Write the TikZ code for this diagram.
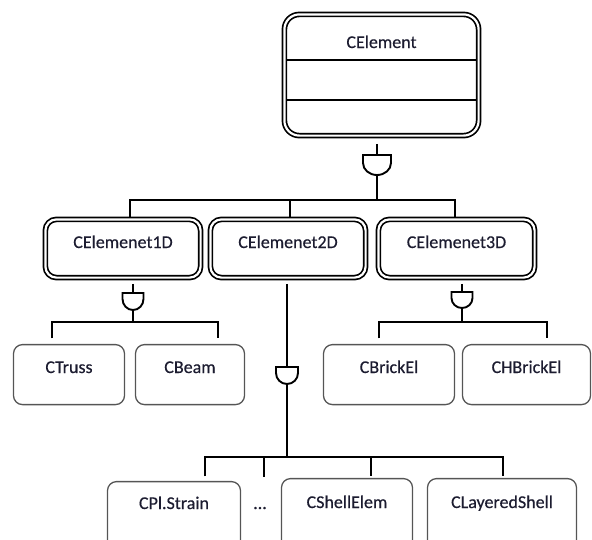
\documentclass[tikz,border=0pt]{standalone}
\usepackage{fontspec}
\setmainfont[FakeBold=0.4]{Carlito}
\usetikzlibrary{calc,backgrounds}
\definecolor{txt}{RGB}{28,28,48}
\definecolor{thinc}{RGB}{85,85,85}
\begin{document}
\begin{tikzpicture}[x=1pt,y=-1pt,
  every node/.style={font=\fontsize{18}{20}\selectfont, text=txt},
  dbl/.style={draw=black, line width=1.7pt, double=white, double distance=2.2pt, inner xsep=0pt, inner ysep=0pt},
  thinbox/.style={draw=thinc, line width=1.3pt, rounded corners=9pt, inner xsep=0pt, inner ysep=0pt},
  conn/.style={line width=1.9pt, black, line join=miter},
  gate/.style={line width=1.9pt, black, fill=white, line join=miter},
  sep/.style={line width=1.5pt, black}
]
\useasboundingbox (0,0) rectangle (592,539);
\clip (0,0) rectangle (592,539);

% root class
\node[dbl, rounded corners=15pt, minimum width=194.2pt, minimum height=121.2pt,
      text height=33.6pt, text depth=87.6pt] (CE) at (381.5,75) {CElement};
\draw[sep] ($(CE.west |- 0,60)+(2.8,0)$) -- ($(CE.east |- 0,60)+(-2.8,0)$);
\draw[sep] ($(CE.west |- 0,100)+(2.8,0)$) -- ($(CE.east |- 0,100)+(-2.8,0)$);

% level 2
\node[dbl, rounded corners=11pt, minimum width=155.2pt, minimum height=58.2pt,
      text height=28.6pt, text depth=29.6pt] (E1) at (123,248.5) {CElemenet1D};
\node[dbl, rounded corners=11pt, minimum width=155.2pt, minimum height=58.2pt,
      text height=28.6pt, text depth=29.6pt] (E2) at (288,248.5) {CElemenet2D};
\node[dbl, rounded corners=11pt, minimum width=156.2pt, minimum height=58.2pt,
      text height=28.6pt, text depth=29.6pt] (E3) at (456.5,248.5) {CElemenet3D};

% level 3
\node[thinbox, minimum width=111pt, minimum height=60pt, text height=28.4pt, text depth=31.6pt] (CT) at (69,374.6) {CTruss};
\node[thinbox, minimum width=109pt, minimum height=60pt, text height=28.4pt, text depth=31.6pt] (CB) at (190,374.6) {CBeam};
\node[thinbox, minimum width=131pt, minimum height=60pt, text height=28.4pt, text depth=31.6pt] (CBr) at (389,374.6) {CBrickEl};
\node[thinbox, minimum width=128pt, minimum height=60pt, text height=28.4pt, text depth=31.6pt] (CHB) at (526.5,374.6) {CHBrickEl};

\node[thinbox, minimum width=133pt, minimum height=88.4pt, text height=27.4pt, text depth=61pt] (CPl) at (174,525.8) {CPl.Strain};
\node[anchor=base, inner sep=0pt] (dots) at (260,509) {...};
\node[thinbox, minimum width=131pt, minimum height=91.4pt, text height=29.4pt, text depth=62pt] (CSh) at (347,524.3) {CShellElem};
\node[thinbox, minimum width=149pt, minimum height=91.4pt, text height=29.4pt, text depth=62pt] (CLS) at (502,524.3) {CLayeredShell};

\begin{scope}[on background layer]
% root -> level 2
\coordinate (g0) at (377,155);
\coordinate (b0) at (377,200);
\coordinate (b0L) at (130,200);
\coordinate (b0M) at (290,200);
\coordinate (b0R) at (455,200);
\draw[conn] ($(CE.south -| g0)+(0,7.4)$) -- (g0);
\draw[conn] ($(g0)+(0,20)$) -- (b0);
\draw[conn] (b0L |- E1.north) -- (b0L) -- (b0R) -- (b0R |- E3.north);
\draw[conn] (b0M) -- (b0M |- E2.north);

% 1D -> children
\coordinate (g1) at (133,293);
\coordinate (b1) at (133,322);
\coordinate (b1L) at (52,322);
\coordinate (b1R) at (218,322);
\draw[conn] ($(E1.south -| g1)+(0,5.4)$) -- (g1);
\draw[conn] ($(g1)+(0,17)$) -- (b1);
\draw[conn] ($(CT.north -| b1L)+(0,-5.6)$) -- (b1L) -- (b1R) -- ($(CB.north -| b1R)+(0,-5.6)$);

% 2D -> children
\coordinate (g2) at (287,367);
\coordinate (b2) at (287,457);
\coordinate (b2L) at (205,457);
\coordinate (b2D) at (264,457);
\coordinate (b2S) at (371,457);
\coordinate (b2R) at (503,457);
\coordinate (dotsTop) at (264,477);
\draw[conn] ($(E2.south -| g2)+(0,5.4)$) -- (g2);
\draw[conn] ($(g2)+(0,17)$) -- (b2);
\draw[conn] ($(CPl.north -| b2L)+(0,-4.6)$) -- (b2L) -- (b2R) -- ($(CLS.north -| b2R)+(0,-1.6)$);
\draw[conn] (b2D) -- (dotsTop);
\draw[conn] (b2S) -- ($(CSh.north -| b2S)+(0,-1.6)$);

% 3D -> children
\coordinate (g3) at (462,292);
\coordinate (b3) at (462,322);
\coordinate (b3L) at (379,322);
\coordinate (b3R) at (547,322);
\draw[conn] ($(E3.south -| g3)+(0,5.4)$) -- (g3);
\draw[conn] ($(g3)+(0,16)$) -- (b3);
\draw[conn] ($(CBr.north -| b3L)+(0,-5.6)$) -- (b3L) -- (b3R) -- ($(CHB.north -| b3R)+(0,-5.6)$);
\end{scope}

% gates
\draw[gate] ($(g0)+(-14,0)$) -- ++(28,0) -- ++(0,8) arc[start angle=0, end angle=180, x radius=14, y radius=12] -- cycle;
\draw[gate] ($(g1)+(-10.5,0)$) -- ++(21,0) -- ++(0,6) arc[start angle=0, end angle=180, x radius=10.5, y radius=11] -- cycle;
\draw[gate] ($(g2)+(-11,0)$) -- ++(22,0) -- ++(0,6) arc[start angle=0, end angle=180, x radius=11, y radius=11] -- cycle;
\draw[gate] ($(g3)+(-10.5,0)$) -- ++(21,0) -- ++(0,6) arc[start angle=0, end angle=180, x radius=10.5, y radius=10] -- cycle;
\end{tikzpicture}
\end{document}
